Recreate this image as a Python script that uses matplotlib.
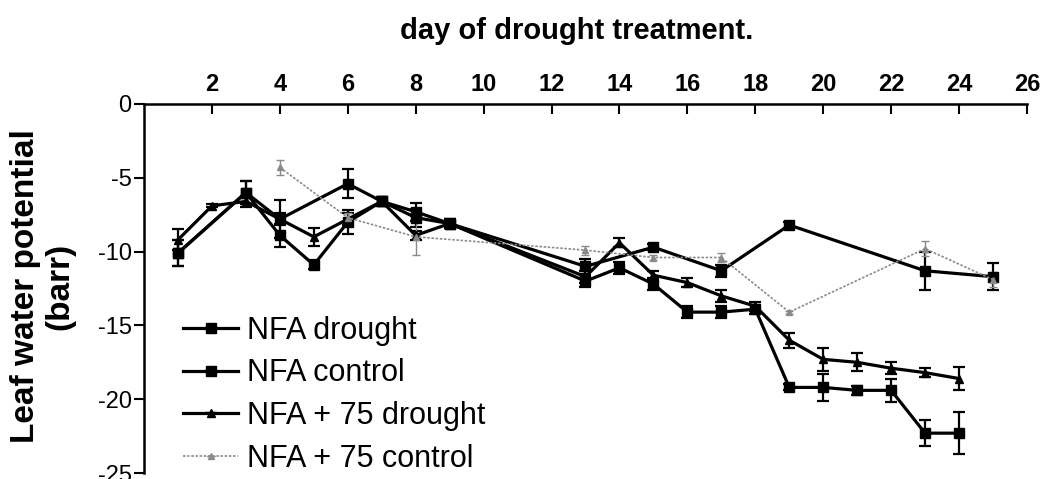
import matplotlib.pyplot as plt
from matplotlib.legend_handler import HandlerErrorbar

plt.rcParams['font.family'] = ['Liberation Sans', 'DejaVu Sans']

# leaf water potential (barr) per day of drought treatment, with error bars
days_nfa_drought = [1, 3, 4, 5, 6, 7, 8, 9, 13, 14, 15, 16, 17, 18, 19, 20, 21, 22, 23, 24]
nfa_drought = [-10.1, -6.0, -8.9, -10.9, -8.0, -6.6, -7.7, -8.1, -12.0, -11.1, -12.2,
               -14.1, -14.1, -13.9, -19.2, -19.2, -19.4, -19.4, -22.3, -22.3]
err_nfa_drought = [0.9, 0.8, 0.8, 0.3, 0.8, 0.3, 0.6, 0.3, 0.4, 0.4, 0.4,
                   0.4, 0.4, 0.3, 0.2, 0.9, 0.3, 0.8, 0.9, 1.4]

days_nfa_control = [1, 3, 4, 6, 7, 8, 9, 13, 15, 17, 19, 23, 25]
nfa_control = [-10.1, -6.0, -7.8, -5.4, -6.6, -7.3, -8.1, -11.0, -9.7, -11.3, -8.2, -11.3, -11.7]
err_nfa_control = [0.9, 0.8, 1.3, 1.0, 0.3, 0.6, 0.3, 0.5, 0.2, 0.4, 0.2, 1.3, 0.9]

days_nfa75_drought = [1, 2, 3, 4, 5, 6, 7, 8, 9, 13, 14, 15, 16, 17, 18, 19, 20, 21, 22, 23, 24]
nfa75_drought = [-9.2, -6.9, -6.6, -7.8, -9.0, -7.8, -6.6, -8.9, -8.1, -11.7, -9.4, -11.6,
                 -12.1, -13.0, -13.7, -16.0, -17.3, -17.5, -17.9, -18.2, -18.6]
err_nfa75_drought = [0.7, 0.1, 0.4, 0.4, 0.6, 0.4, 0.2, 0.3, 0.3, 0.4, 0.3, 0.3,
                     0.3, 0.4, 0.3, 0.5, 0.8, 0.6, 0.4, 0.3, 0.8]

days_nfa75_control = [4, 6, 8, 13, 15, 17, 19, 23, 25]
nfa75_control = [-4.3, -7.7, -9.0, -9.9, -10.4, -10.4, -14.1, -9.8, -11.9]
err_nfa75_control = [0.5, 0.3, 1.2, 0.3, 0.2, 0.3, 0.1, 0.5, 0.5]

x_ticks = [2, 4, 6, 8, 10, 12, 14, 16, 18, 20, 22, 24, 26]
y_ticks = [0, -5, -10, -15, -20, -25]

fig = plt.figure(figsize=(10.46, 4.79), dpi=100)
ax = fig.add_axes([0.1377, 0.0125, 0.8441, 0.7704])

solid = dict(color='black', lw=2.3, ecolor='black', elinewidth=1.6, capsize=4, capthick=1.6)
ax.errorbar(days_nfa_drought, nfa_drought, yerr=err_nfa_drought, marker='s', ms=6.5,
            label='NFA drought', **solid)
ax.errorbar(days_nfa_control, nfa_control, yerr=err_nfa_control, marker='s', ms=6.5,
            label='NFA control', **solid)
ax.errorbar(days_nfa75_drought, nfa75_drought, yerr=err_nfa75_drought, marker='^', ms=6,
            label='NFA + 75 drought', **solid)
ax.errorbar(days_nfa75_control, nfa75_control, yerr=err_nfa75_control, marker='^', ms=4,
            color='#8a8a8a', lw=1.2, ls=(0, (1.5, 1)), ecolor='#8a8a8a', elinewidth=1,
            capsize=3, label='NFA + 75 control')

ax.set_xlim(0, 26)
ax.set_ylim(-25, 0)
ax.xaxis.tick_top()
ax.xaxis.set_label_position('top')
ax.set_xticks(x_ticks)
ax.set_yticks(y_ticks)
ax.set_yticklabels([str(v) for v in y_ticks])
ax.tick_params(axis='x', direction='in', length=7, width=1.5, labelsize=17, pad=6)
ax.tick_params(axis='y', direction='out', length=7, width=1.5, labelsize=17, pad=2)
for lab in ax.get_xticklabels():
    lab.set_fontweight('bold')

ax.spines['right'].set_visible(False)
ax.spines['bottom'].set_visible(False)
ax.spines['top'].set_linewidth(1.8)
ax.spines['left'].set_linewidth(1.8)

fig.text(0.551, 0.935, 'day of drought treatment.', ha='center', va='center',
         fontsize=21, fontweight='bold')
fig.text(0.041, 0.403, 'Leaf water potential\n(barr)', ha='center', va='center',
         rotation=90, fontsize=24, fontweight='bold', linespacing=1.15)

# legend entries without the error bar glyph
ax.legend(loc='lower left', bbox_to_anchor=(183 / 1046, 1 - 474 / 479),
          bbox_transform=fig.transFigure, frameon=False, fontsize=22,
          handlelength=1.8, handletextpad=0.3, labelspacing=0.42,
          borderpad=0, borderaxespad=0,
          handler_map={type(ax.containers[0]): HandlerErrorbar(yerr_size=0)})

fig.savefig('out.png', dpi=100)
